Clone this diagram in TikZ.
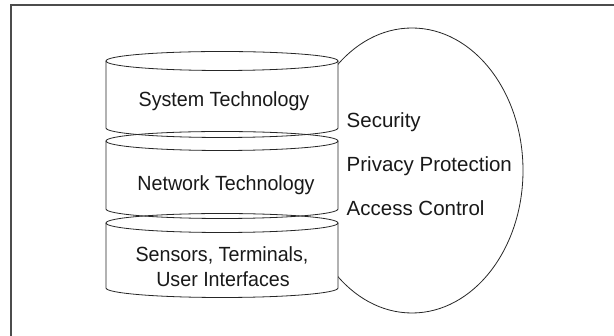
\documentclass[tikz,border=0pt]{standalone}
\usepackage{fontspec}
\setmainfont{Liberation Sans}
\begin{document}
\begin{tikzpicture}[x=1pt,y=-1pt,
  outline/.style={draw=black!85,line width=0.8pt},
  label/.style={font=\fontsize{20.5}{24}\selectfont,inner sep=0pt,text=black!90},
  layerlabel/.style={label,anchor=base,align=center,xscale=0.96},
  sidelabel/.style={label,anchor=base west}]
\useasboundingbox (0,0) rectangle (614,336);
% frame edges
\draw[draw=black!70,line width=1.8pt] (11,336) -- (11,5) -- (614,5);

% surrounding ellipse of cross-cutting concerns
\path[outline,fill=white] (412,170.5) ellipse [x radius=111, y radius=142.5];

% stacked layers: bodies first, outlines after
\foreach \t/\b in {61/128, 141/209, 223/288}{
  \fill[white] (106,\t) -- (106,\b) arc[start angle=180,end angle=0,x radius=116,y radius=9.5]
     -- (338,\t) arc[start angle=0,end angle=-180,x radius=116,y radius=9.5] -- cycle;
}
\foreach \t/\b in {61/128, 141/209, 223/288}{
  \path[outline] (106,\t) -- (106,\b) arc[start angle=180,end angle=0,x radius=116,y radius=9.5]
     -- (338,\t);
  \path[outline] (222,\t) ellipse [x radius=116, y radius=9.5];
}

\node[layerlabel] (sys) at (224,107) {System Technology};
\node[layerlabel] (net) at (226,191) {Network Technology};
\node[layerlabel] (sen) at (222,262) {Sensors, Terminals,};
\node[layerlabel] (usr) at (223,287) {User Interfaces};

\node[sidelabel] (sec) at (346.5,128) {Security};
\node[sidelabel] (priv) at (346.5,172) {Privacy Protection};
\node[sidelabel] (acc) at (346.5,216) {Access Control};
\end{tikzpicture}
\end{document}
